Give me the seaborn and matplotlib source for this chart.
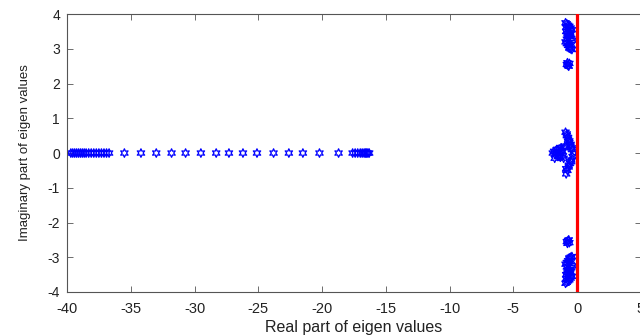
import matplotlib
matplotlib.use("Agg")
import matplotlib.pyplot as plt
import seaborn as sns
import numpy as np
import pandas as pd

# Eigenvalues lying on the real axis (imaginary part = 0)
real_axis_re = [-39.7, -39.55, -39.4, -39.25, -39.1, -38.95, -38.8, -38.65, -38.5,
                -38.3, -38.1, -37.9, -37.7, -37.5, -37.3, -37.1, -36.9, -36.7,
                -35.5, -34.2, -33.0, -31.8, -30.7, -29.5, -28.3, -27.3, -26.2,
                -25.1, -23.8, -22.6, -21.5, -20.2, -18.7,
                -17.6, -17.4, -17.2, -17.0, -16.85, -16.7, -16.6, -16.5, -16.4, -16.3]

# Cluster near the origin (small real/imag parts)
near0_re = [-1.9, -1.8, -1.7, -1.6, -1.5, -1.4, -1.3, -1.2, -1.1, -1.0,
            -1.75, -1.55, -1.35, -1.15, -0.95, -1.65, -1.45, -1.25, -1.05,
            -0.9, -0.8, -0.7, -0.6, -0.5, -0.4, -0.3,
            -0.85, -0.75, -0.65, -0.55, -0.45, -0.35,
            -0.8, -0.7, -0.6, -0.5, -0.4, -0.85, -0.65, -0.45]
near0_im = [0.0, 0.05, -0.05, 0.1, -0.1, 0.12, -0.12, 0.08, -0.08, 0.15,
            -0.15, 0.1, -0.1, 0.05, 0.2, 0.0, 0.0, 0.15, -0.15,
            0.6, 0.5, 0.4, 0.3, 0.2, 0.1, 0.0,
            -0.6, -0.5, -0.4, -0.3, -0.2, -0.1,
            0.55, 0.45, 0.35, 0.25, 0.15, -0.45, -0.35, -0.25]

# Complex-conjugate pairs (upper half listed, lower half is the conjugate)
pair_re = [-0.9, -0.8, -0.7, -0.6, -0.5, -0.4, -0.85, -0.75, -0.65, -0.55,
           -0.45, -0.35, -0.9, -0.8, -0.7, -0.6, -0.5, -0.4, -0.85, -0.75,
           -0.65, -0.55, -0.45, -0.8, -0.7, -0.6, -0.5,
           -0.8, -0.7, -0.6, -0.75, -0.65]
pair_im = [3.75, 3.72, 3.68, 3.65, 3.6, 3.55, 3.5, 3.45, 3.4, 3.35,
           3.3, 3.25, 3.2, 3.15, 3.1, 3.05, 3.0, 2.98, 3.62, 3.38,
           3.18, 3.48, 3.12, 3.28, 3.55, 3.02, 3.42,
           2.55, 2.52, 2.58, 2.6, 2.5]

x_ticks = [-40, -35, -30, -25, -20, -15, -10, -5, 0, 5]
y_ticks = [-4, -3, -2, -1, 0, 1, 2, 3, 4]

re_all = real_axis_re + near0_re + pair_re + pair_re
im_all = [0.0] * len(real_axis_re) + near0_im + pair_im + [-v for v in pair_im]
df = pd.DataFrame({"re": re_all, "im": im_all})

sns.set_style("white")
plt.rcParams["font.family"] = ["Liberation Sans", "DejaVu Sans"]
plt.rcParams["axes.unicode_minus"] = False

fig = plt.figure(figsize=(6.4, 3.36), dpi=100)
ax = fig.add_axes([0.1047, 0.131, 0.8965, 0.827])

sns.scatterplot(data=df, x="re", y="im", ax=ax, marker=(6, 1, 0), s=38,
                facecolor="none", edgecolor="blue", linewidth=0.9, legend=False)
ax.axvline(0, color="red", lw=2.3, zorder=5)

ax.set_xlim(-40, 5)
ax.set_ylim(-4, 4)
ax.set_xticks(x_ticks)
ax.set_yticks(y_ticks)
ax.tick_params(direction="in", length=4, width=0.6, color="#555555",
               top=True, right=True, bottom=True, left=True,
               labelcolor="#222222")
ax.tick_params(axis="x", labelsize=10.5, pad=7)
ax.tick_params(axis="y", labelsize=10, pad=5)
for sp in ax.spines.values():
    sp.set_color("#555555")
    sp.set_linewidth(0.8)
ax.set_xlabel("Real part of eigen values", fontsize=11.5, color="#222222", labelpad=3)
ax.set_ylabel("Imaginary part of eigen values", fontsize=9.5, color="#222222", labelpad=12)

fig.savefig("out.png", dpi=100)
